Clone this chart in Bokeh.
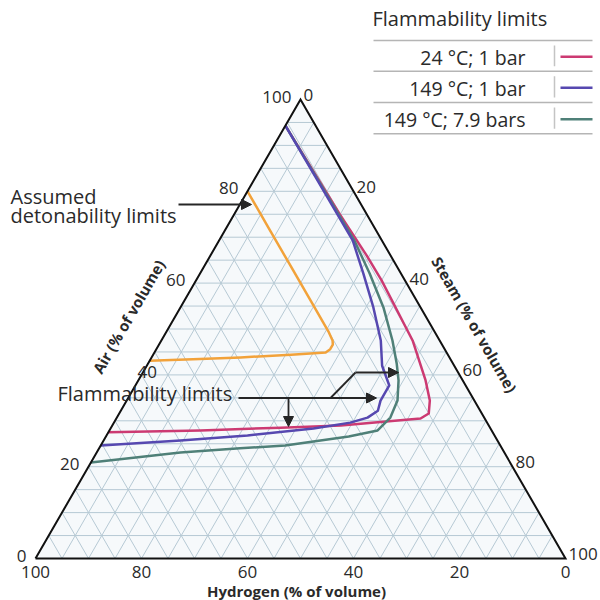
import numpy as np
from bokeh.plotting import figure
from bokeh.models import Range1d, Arrow, NormalHead
from bokeh.core.properties import value
from bokeh.embed import file_html
from bokeh.resources import INLINE

# ---------------- data ----------------
axis_ticks = [0, 20, 40, 60, 80, 100]
grid_values = list(range(5, 100, 5))

legend_title = "Flammability limits"
series_labels = ["24 °C; 1 bar", "149 °C; 1 bar", "149 °C; 7.9 bars"]
series_colors = ["#cc3a72", "#5648b0", "#4f8078"]
det_color = "#f2a23a"

# Assumed detonability limits (air %, steam %)
det_air = [80.0, 72.0, 64.0, 56.0, 49.5, 47.5, 46.6, 45.6, 44.9, 44.4, 43.8, 43.4, 43.1]
det_steam = [0.0, 8.0, 16.0, 24.0, 30.5, 32.3, 32.8, 32.8, 32.3, 26.0, 16.8, 8.0, 0.0]

# Flammability limits, 24 C, 1 bar
f24_air = [94.3, 75.0, 66.0, 60.6, 47.5, 38.8, 34.4, 31.6, 30.5, 30.1, 29.0, 28.5, 27.9, 27.5]
f24_steam = [0.0, 19.9, 29.5, 35.0, 47.4, 54.2, 57.2, 58.4, 57.4, 53.8, 43.1, 32.0, 17.2, 0.0]

# Flammability limits, 149 C, 1 bar
f149_air = [94.3, 69.3, 62.1, 54.7, 47.5, 42.0, 37.7, 34.4, 32.2, 30.7, 29.6, 28.3, 26.8, 25.7, 24.6]
f149_steam = [0.0, 25.2, 30.8, 36.4, 41.4, 44.4, 47.9, 47.9, 48.5, 47.3, 44.6, 38.3, 26.6, 14.5, 0.0]

# Flammability limits, 149 C, 7.9 bars
f149p_air = [94.3, 69.3, 62.1, 54.7, 47.5, 42.5, 38.8, 34.4, 30.7, 27.9, 26.6, 24.6, 24.0, 23.1, 20.9]
f149p_steam = [0.0, 25.5, 32.0, 38.3, 43.6, 46.9, 49.1, 51.1, 51.6, 50.6, 45.8, 34.8, 26.6, 15.8, 0.0]

# ---------------- geometry ----------------
SQ = np.sqrt(3) / 2
S = 5.3           # pixels per percent
OX, OY = 35, 558  # page pixel position of the Hydrogen-100 corner
W = H = 600


def tern(air, steam):
    air = np.asarray(air, float)
    steam = np.asarray(steam, float)
    return steam + air / 2, air * SQ


def px(xp, yp):
    """page pixel -> data coordinates (for layout of annotations)"""
    return (xp - OX) / S, (OY - yp) / S


FONT = value("Open Sans")
TXT = "#2a2a2a"

p = figure(width=W, height=H, output_backend="svg", toolbar_location=None,
           x_range=Range1d((0 - OX) / S, (W - OX) / S),
           y_range=Range1d((OY - H) / S, (OY - 0) / S),
           x_axis_type=None, y_axis_type=None, min_border=0)
p.outline_line_color = None
p.grid.visible = False
p.background_fill_color = "white"
p.border_fill_color = "white"

# triangle background
tx, ty = tern([0, 100, 0], [0, 0, 100])
p.patch(tx, ty, fill_color="#f6f9fb", line_color=None)

# grid
gx, gy = [], []
for v in grid_values:
    x, y = tern([v, v], [0, 100 - v]); gx.append(x); gy.append(y)
    x, y = tern([0, 100 - v], [v, v]); gx.append(x); gy.append(y)
    x, y = tern([100 - v, 0], [0, 100 - v]); gx.append(x); gy.append(y)
p.multi_line(gx, gy, line_color="#b6c9d4", line_width=1)

# curves
x, y = tern(det_air, det_steam)
p.line(x, y, line_color=det_color, line_width=2.5, line_join="round")
for a, s, c in [(f24_air, f24_steam, series_colors[0]),
                (f149p_air, f149p_steam, series_colors[2]),
                (f149_air, f149_steam, series_colors[1])]:
    x, y = tern(a, s)
    p.line(x, y, line_color=c, line_width=2.5, line_join="round")

# triangle outline
ox, oy = tern([0, 100, 0, 0], [0, 0, 100, 0])
p.line(ox, oy, line_color="#111111", line_width=2, line_join="miter")

# tick labels
lx, ly, lt, la = [], [], [], []
for t in axis_ticks:  # Air (left side)
    X, Y = tern([t], [0])
    if t == 40:   # this label sits on the edge in the original
        lx.append(X[0] - 4 / S); la.append("left")
    else:
        lx.append(X[0] - 9 / S); la.append("right")
    ly.append(Y[0] + 3 / S); lt.append(str(t))
p.text(lx, ly, text=lt, text_font=FONT, text_font_size="17px", text_color=TXT,
       text_align=la, text_baseline="middle")
rx, ry, rt = [], [], []
for t in axis_ticks:  # Steam (right side)
    X, Y = tern([100 - t], [t])
    rx.append(X[0] + 3 / S); ry.append(Y[0] + 4.5 / S); rt.append(str(t))
p.text(rx, ry, text=rt, text_font=FONT, text_font_size="17px", text_color=TXT,
       text_align="left", text_baseline="middle")
bx, by, bt = [], [], []
for t in axis_ticks:  # Hydrogen (bottom)
    X, Y = tern([0], [100 - t])
    bx.append(X[0]); by.append(Y[0] - 13.5 / S); bt.append(str(t))
p.text(bx, by, text=bt, text_font=FONT, text_font_size="17px", text_color=TXT,
       text_align="center", text_baseline="middle")

# axis titles
X, Y = px(296, 590)
p.text([X], [Y], text=["Hydrogen (% of volume)"], text_font=FONT, text_font_size="15px",
       text_font_style="bold", text_color=TXT, text_align="center", text_baseline="middle")
X, Y = px(128, 316)
p.text([X], [Y], text=["Air (% of volume)"], text_font=FONT, text_font_size="15px",
       text_font_style="bold", text_color=TXT, text_align="center", text_baseline="middle",
       angle=np.pi / 3)
X, Y = px(474, 324)
p.text([X], [Y], text=["Steam (% of volume)"], text_font=FONT, text_font_size="15px",
       text_font_style="bold", text_color=TXT, text_align="center", text_baseline="middle",
       angle=-np.pi / 3)


def label(xp, yp, txt, size="20px", align="left"):
    X, Y = px(xp, yp)
    p.text([X], [Y], text=[txt], text_font=FONT, text_font_size=size,
           text_color=TXT, text_align=align, text_baseline="middle")


# annotation: detonability
ARC = "#262626"
label(10, 196, "Assumed")
label(10, 215, "detonability limits")


def arrow(x0, y0, x1, y1):
    a0 = px(x0, y0); a1 = px(x1, y1)
    p.add_layout(Arrow(end=NormalHead(size=10, fill_color=ARC, line_color=ARC),
                       x_start=a0[0], y_start=a0[1], x_end=a1[0], y_end=a1[1],
                       line_color=ARC, line_width=1.8))


def seg(xs, ys, color=ARC, width=1.8):
    pts = [px(a, b) for a, b in zip(xs, ys)]
    p.line([q[0] for q in pts], [q[1] for q in pts], line_color=color, line_width=width)


arrow(178, 204, 251, 204)

# annotation: flammability
label(57, 393, "Flammability limits")
arrow(238, 397.5, 376, 397.5)
arrow(288, 397.5, 288, 426)
seg([330, 355], [397.5, 372])
arrow(355, 372, 398, 372)

# legend
label(372, 18, legend_title)
row_lines = [40, 70.7, 102, 133.3]
for yl in row_lines:
    seg([373, 592], [yl, yl], color="#b5b5b5", width=1.5)
for i, (lab, col) in enumerate(zip(series_labels, series_colors)):
    top, bot = row_lines[i], row_lines[i + 1]
    label(525, (top + bot) / 2 + 1.5, lab, size="19.5px", align="right")
    seg([554, 554], [top + 5, bot - 5], color="#c4c4c4", width=1.5)
    mid = (top + bot) / 2 + 1
    seg([560, 592], [mid, mid], color=col, width=2.5)

open("out.html", "w").write(file_html(p, INLINE))
